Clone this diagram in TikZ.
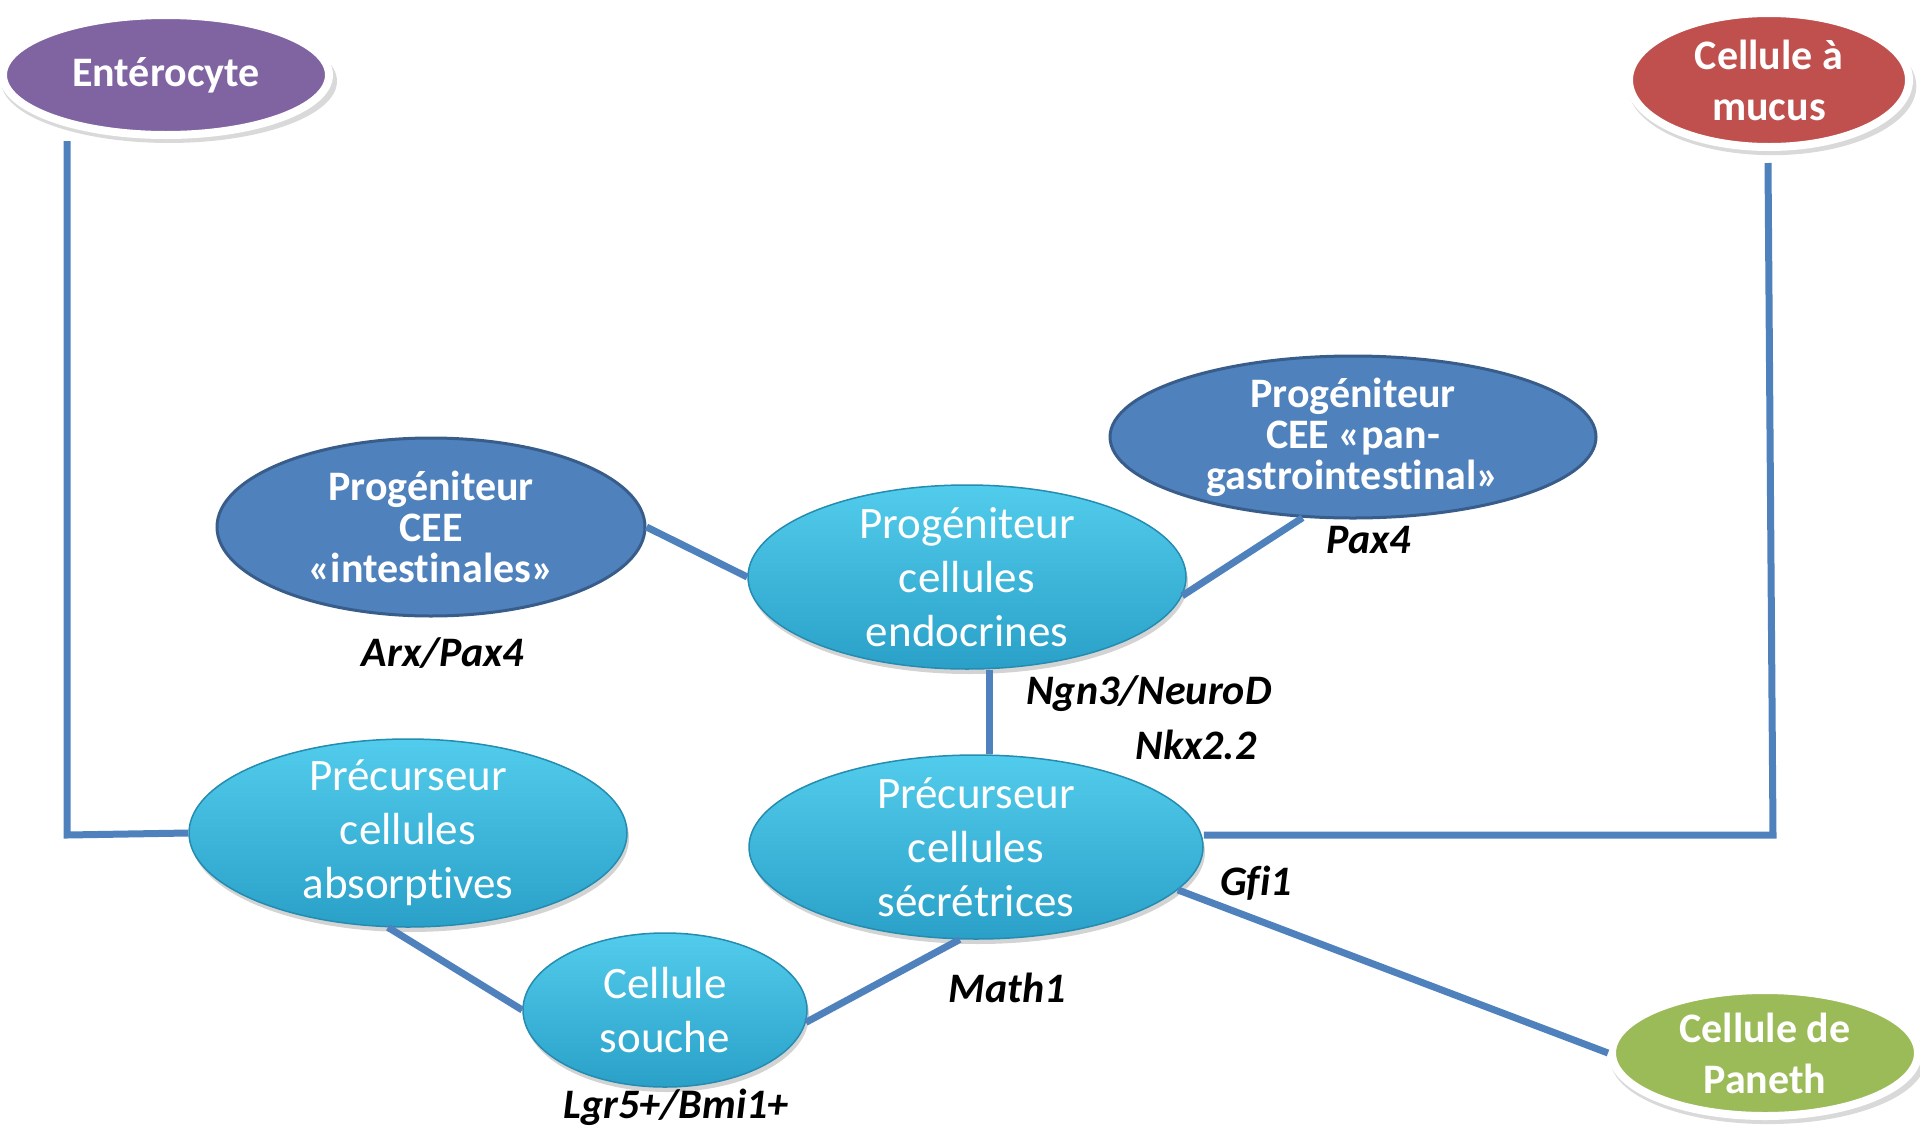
\documentclass[tikz,border=0pt]{standalone}
\usepackage{fontspec}
\setmainfont{Carlito}[Ligatures={NoCommon}]
\usetikzlibrary{shapes.geometric,shadows,calc}
\definecolor{linkblue}{RGB}{79,129,189}
\definecolor{darkblue}{RGB}{79,129,189}
\definecolor{darkblueedge}{RGB}{56,93,138}
\definecolor{cyantop}{RGB}{82,204,236}
\definecolor{cyanbot}{RGB}{42,160,200}
\definecolor{cyanedge}{RGB}{36,140,176}
\definecolor{purplecell}{RGB}{128,100,162}
\definecolor{redcell}{RGB}{192,80,77}
\definecolor{greencell}{RGB}{155,187,89}
\begin{document}
\begin{tikzpicture}[x=1pt,y=-1pt,
  cell/.style={ellipse, inner xsep=0pt, inner ysep=-25pt, align=center, text=white},
  outercell/.style={cell, draw=white, line width=8pt, font=\bfseries\fontsize{42}{51}\selectfont,
     drop shadow={shadow xshift=3pt, shadow yshift=-6pt, shadow scale=1.03, opacity=0.3}},
  progcell/.style={cell, fill=darkblue, draw=darkblueedge, line width=3pt,
     font=\bfseries\fontsize{42}{41}\selectfont},
  cyancell/.style={cell, top color=cyantop, bottom color=cyanbot, draw=cyanedge, line width=1.5pt,
     font=\fontsize{45}{54}\selectfont,
     drop shadow={shadow xshift=2pt, shadow yshift=-5pt, opacity=0.35}},
  gene/.style={font=\bfseries\itshape\fontsize{42}{50}\selectfont, text=black, inner sep=0pt},
  link/.style={draw=linkblue, line width=7pt}
]
\useasboundingbox (0,0) rectangle (1920,1138);

% outer cells
\node[outercell, fill=purplecell, minimum width=326pt, minimum height=120pt] (ent) at (166,75) {Entérocyte};
\node[outercell, fill=redcell, minimum width=280pt, minimum height=134pt] (muc) at (1769,80) {Cellule à\\mucus};
\node[outercell, fill=greencell, minimum width=306pt, minimum height=126pt] (pan) at (1765,1053) {Cellule de\\Paneth};

% progenitors CEE
\node[progcell, minimum width=428pt, minimum height=178pt] (int) at (431,527) {Progéniteur\\CEE\\«intestinales»};
\node[progcell, minimum width=486pt, minimum height=162pt] (pgi) at (1353,437) {Progéniteur\\CEE «pan-\\gastrointestinal»};

% cyan cells
\node[cyancell, minimum width=438pt, minimum height=184pt] (endo) at (967,577) {Progéniteur\\cellules\\endocrines};
\node[cyancell, minimum width=454pt, minimum height=184pt] (sec) at (976,847) {Précurseur\\cellules\\sécrétrices};
\node[cyancell, minimum width=438pt, minimum height=188pt] (abs) at (408,833) {Précurseur\\cellules\\absorptives};
\node[cyancell, minimum width=284pt, minimum height=154pt] (sou) at (665,1010) {Cellule\\souche};

% gene labels
\node[gene] (lArx) at (443,653) {Arx/Pax4};
\node[gene] (lPax) at (1369,540) {Pax4};
\node[gene] (lNgn) at (1149,694) {Ngn3/NeuroD};
\node[gene] (lNkx) at (1196,745) {Nkx2.2};
\node[gene] (lGfi) at (1256,883) {Gfi1};
\node[gene] (lMath) at (1007,988) {Math1};
\node[gene] (lLgr) at (676,1107) {Lgr5+/Bmi1+};

% connector corners
\coordinate (c1) at (67,835);
\coordinate (c1top) at (67,141);
\coordinate (c2) at (1773,835);
\coordinate (c2top) at (1768,163);

% connectors
\draw[link] (abs.west) -- (c1) -- (c1top);
\draw[link] (sec.east |- c2) -- (c2) -- (c2top);
\draw[link] (int.east) -- (endo.west);
\draw[link] (endo.-5) -- (pgi.238);
\draw[link] ($(endo.south)+(22,0)$) -- ($(sec.north)+(13,0)$);
\draw[link] (abs.258) -- (sou.west);
\draw[link] (sou.-5) -- (sec.260);
\draw[link] (sec.-12) -- (pan.west);
\end{tikzpicture}
\end{document}
